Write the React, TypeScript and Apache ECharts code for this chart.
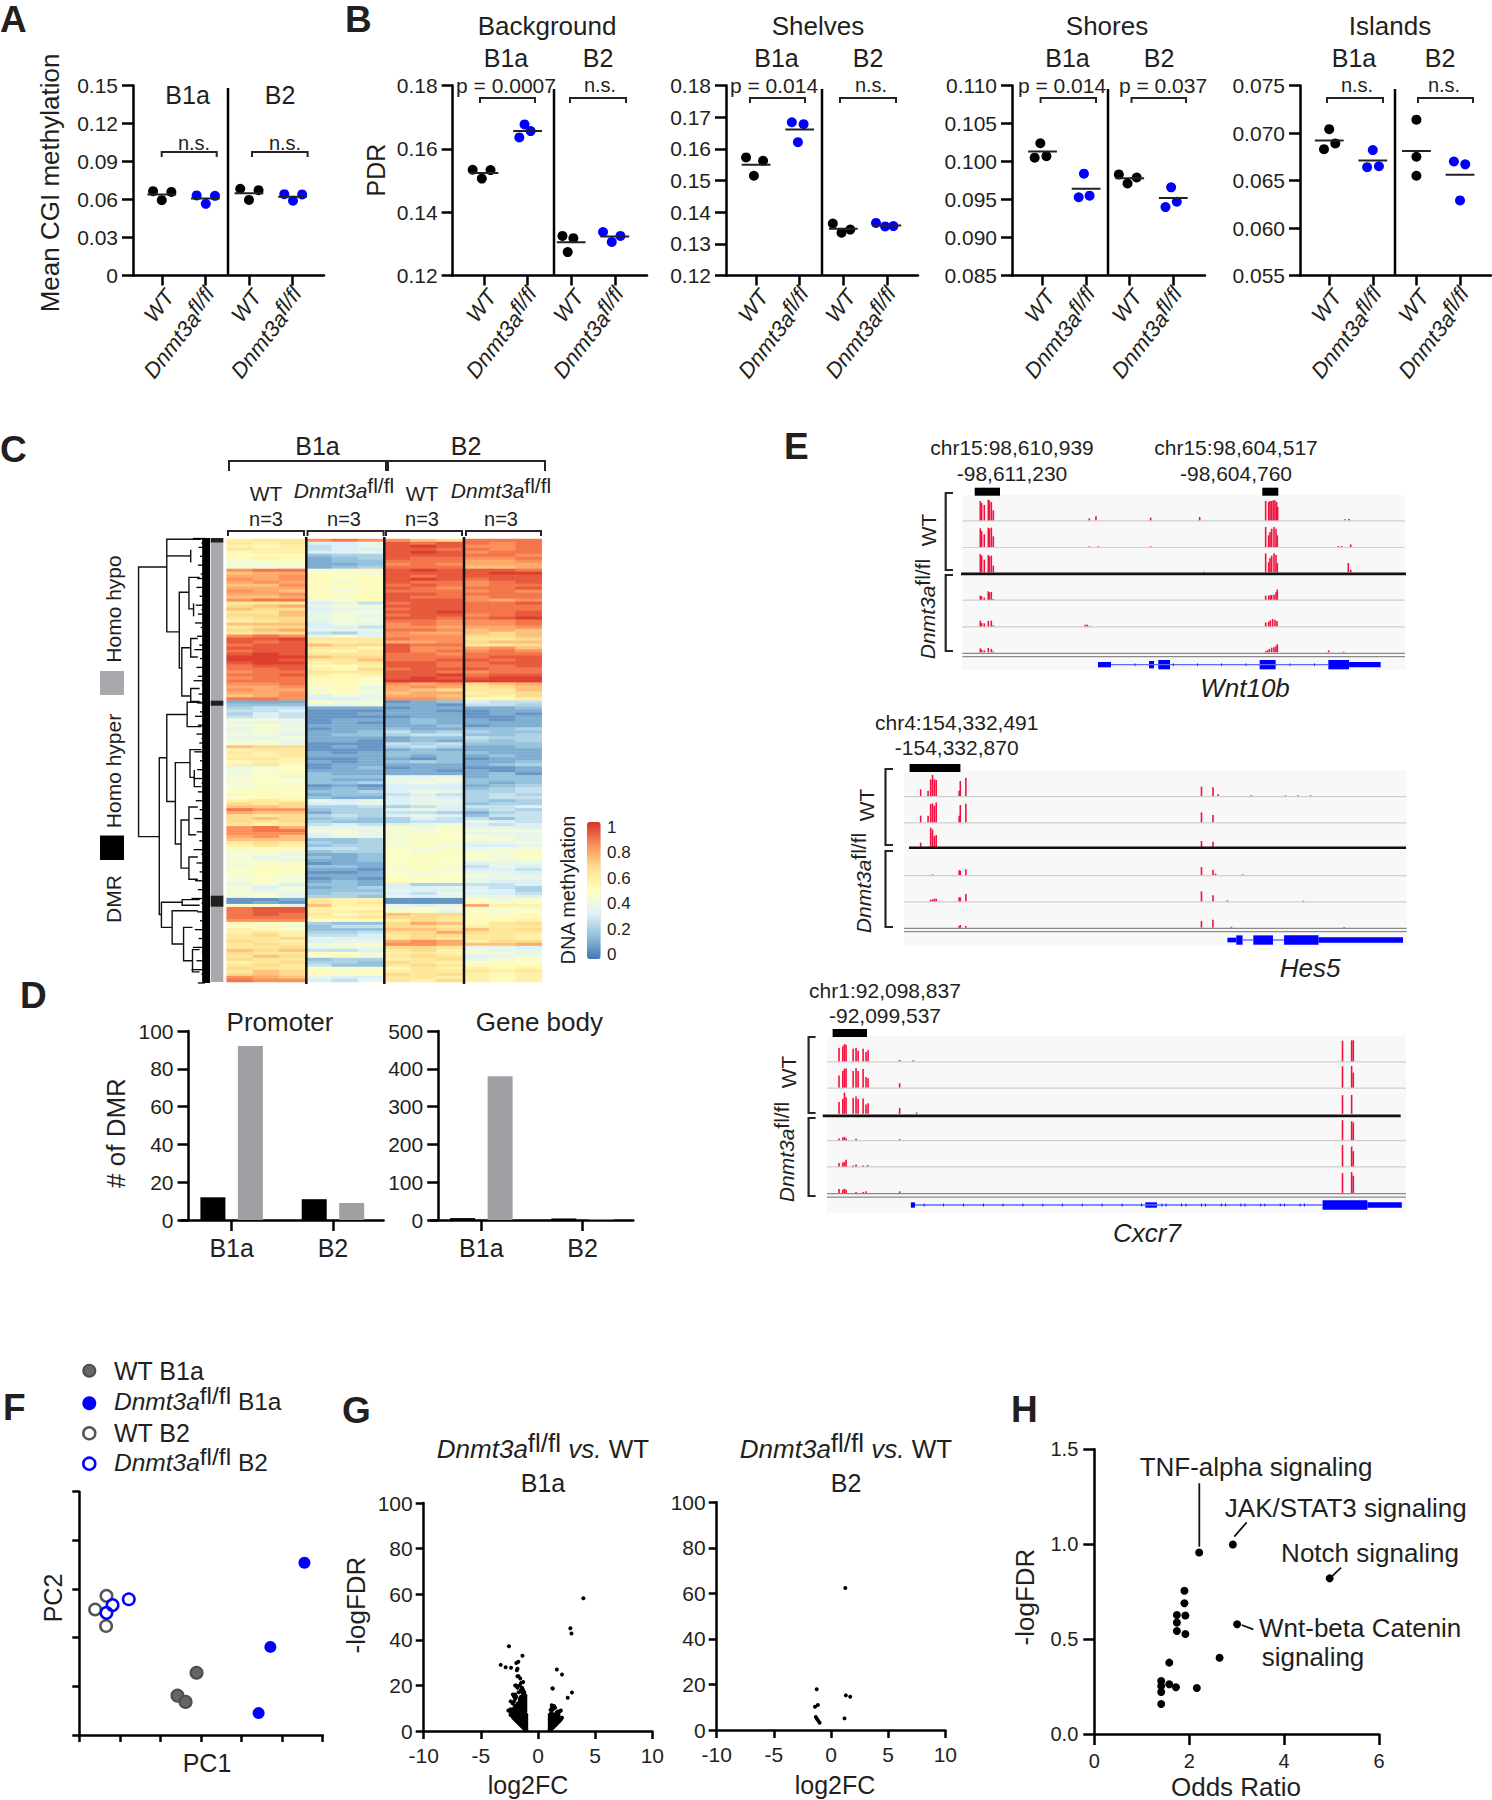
import React, { useEffect, useRef } from "react";
import * as echarts from "echarts";

const FF = "'Liberation Sans', Arial, sans-serif";
const INK = "#231f20";
const BLUE = "#0000ff";
const AXIS = "#000000";

// ---------- panels A / B ----------
const cgiJit = [[-0.2, 0, 0.22], [-0.2, 0.01, 0.22], [-0.2, 0, 0.22], [-0.19, 0.01, 0.22]];
const cgiDots = [[0.0666, 0.0595, 0.066], [0.0632, 0.0566, 0.0629], [0.0684, 0.0597, 0.0674], [0.0642, 0.059, 0.064]];
const cgiMeans = [0.064, 0.0608, 0.065, 0.0621];
const bgJit = [[-0.26, -0.05, 0.15], [-0.07, -0.19, 0.07], [-0.2, -0.08, 0.05], [-0.27, -0.07, 0.13]];
const bgDots = [[0.1534, 0.1506, 0.1533], [0.1677, 0.1636, 0.1656], [0.1325, 0.1274, 0.1318], [0.1337, 0.1306, 0.1325]];
const bgMeans = [0.1524, 0.1656, 0.1305, 0.1323];
const shelfJit = [[-0.23, -0.05, 0.16], [-0.18, 0.09, -0.04], [-0.24, -0.04, 0.16], [-0.25, -0.04, 0.15]];
const shelfDots = [[0.1573, 0.1515, 0.1562], [0.1684, 0.1678, 0.1621], [0.1364, 0.1335, 0.1345], [0.1366, 0.1355, 0.1356]];
const shelfMeans = [0.155, 0.1661, 0.1348, 0.1358];
const shoreJit = [[-0.05, -0.18, 0.09], [-0.05, -0.17, 0.08], [-0.25, -0.05, 0.16], [-0.05, -0.18, 0.08]];
const shoreDots = [[0.1024, 0.1005, 0.1007], [0.0984, 0.0953, 0.0955], [0.0983, 0.0971, 0.0979], [0.0966, 0.094, 0.0947]];
const shoreMeans = [0.1013, 0.0964, 0.0978, 0.0952];
const islandJit = [[0, -0.12, 0.14], [0, -0.13, 0.14], [0, 0, 0], [-0.14, 0.12, 0]];
const islandDots = [[0.0704, 0.0683, 0.0689], [0.0682, 0.0664, 0.0665], [0.0714, 0.0675, 0.0655], [0.067, 0.0667, 0.0629]];
const islandMeans = [0.0692, 0.0671, 0.0681, 0.0656];

// ---------- panel C: 12 samples per row, letters a..t are methylation steps of 0.05 ----------
const heatRows = [
  "lmmqrqqonrrr","mlmgghsrsrqr","lklfghstsqqr","mllfggssrrqr","kllgghstsqrr","jkkdeesssrrq","klkcdesrrqqr",
  "ijjcddrrrppq","iijccdqrqppp","iiicderrroop","qrrijkstsssr","oppjjisssstt","ppqkjjsrssss","qpqkjkstsrss",
  "pqpjiksrrqrs","ooqkkjrsrqrr","pppjiksrqrrs","qpokijrrrqrq","ppqjkkssrrrr","oopkiksrrqrr","qrrikksssqpq",
  "mmmghfrssrrs","nophiisssrrr","onnghhrssrrr","mmohiisstrrs","nnohihrssqrs","mnnhihssrrst",
  "lmnhiirrqqqr","ooogihqrqqqr","mnnggfqqpppq","nophhhrrqopo","mnnfegqppono","qrqhihqqqnno",
  "sstmmmrqqmmn","srsllmppqnoo","rssonnsrrmmn","sssmmksqqpqo","rsslkmsqrqrq","stsmmmrrqrrr","tttonnrrrrss",
  "ttsmmorrssrs","sttlmmssrrss","rsskklssrrrs","rrslknrsssrr","qrrmmmssrqrr","rrslklsstrss","qrrkkjstsstt",
  "rrrkkjtttttt","qqrjkjqpqnop","ppqjkhpqpmno","qppikiponmmo","ppqkjiopplmn","opqgihppomln","rrqgghqqpkkl",
  "cccjiibcdgff","dddhhiccbffe","effcccbccccd","ffgbbbccbbcc","egfbbccccbcb","fgfbbbbccbbc","iihbcccdccbc",
  "hhhbcbcdcccc","ijhcccccdbcc","hiibccdccdde","hihccdfdeedd","iihcddeffdde","hhiccccddfee","ijhccbcdcede",
  "iihbbbfefddd","onnbcbefeccd","lmmbbbcdcccc","mlmcbcddddcc","llmcccdcdcdc","mmlbbccbdbcc","kllcbcdedccd",
  "lmkbccccccde","hijbcdbccbbc","ijjcccccbcbc","ijkdccccccdb","ijhdddhhhcdd","ijjdcchhiddd",
  "jjiddehihdcd","ijjbcbgggcde","jjkcdcgggdef","jkjddegiheef","kkjcddfgfefe","jkkdccghgeff","lmlhghghhede",
  "nmngghghhdee","ooneefefgffg","rqqdeeghgefe","pooceeffecef","nmnefeghgdff","nondedegffdf","nmneddeffhgf",
  "mlmfgfghigfg","qrphhhjijhhg","qrriihiijiii","qqqhihijjhhh","pqoghhjijjih","oooddeijjiih","mnmedejkjhhi",
  "lmldeeijiggh","kkkffejijhii","ijideejijiij","jihccdjkkjij","ihidcdjjjjij","jihccdjkjiii","ijjbccjjjghh",
  "ijjddcjkjfhg","jkjccbijiggf","jjkbbcjjjhhg","ijicccjijihh","jjibcbjkjhhh","ijicdckjjhgg","higddcgeeffg",
  "igicdegghgfe","jhidddhgghge","iihdeegfhggf","ijheedhghhhg","bbcmllbbbjij","bcbmlmbbbjij","jjhollhghpll",
  "rsslkkijiiji","rssllmjjhjij","rsrmklonnkjk","rrrllmnnmkkk","qqqkjklnmjkl","kjjeddnpokmn","jkidffnnmlmm",
  "lkjdddoonomn","lmleefnnpnmm","mnlffgmnnmml","mmnhggmnmmml","nmlghhpqplnn","mnmiijqqpoop","mmnhiinnmhhg",
  "onoffgmnlihh","nmmjjilmliih","monjkimnmghi","nmmdeelmnhij","lmneednmljkj","mnmfddmnmkkk","nmmjjjkmllkl",
  "monkijlmmmlm","nonjkjnmnlkl","qpohggmmllkl","rqqgfhmlnlkl",
];
const heatAlphabet = "abcdefghijklmnopqrst";
const heatColors = ["#4575b4", "#91bfdb", "#e0f3f8", "#ffffbf", "#fee090", "#fc8d59", "#d73027"];
const colorTicks = ["1", "0.8", "0.6", "0.4", "0.2", "0"];
const leafTeeth = [316,340,332,345,336,342,330,344,338,328,343,326,341,335,344,324,340,330,344,322,338,342,328,344,334,320,342,336,345,326,343,330,318,341,345,332,342,328,344,336,322,343,330,345,326,340,334,344,320,341,336,345,328,342,318,340,344,330,343,324,345,335,342,320,341,344,327,343,334,345,318,340,344,326,342,335,345,322,343,330,344,312,340,345,328,344,336,345,322,343,332,344,316,341,345,326,343,312,340,345,330];

// ---------- panel D ----------
const dmrCats = ["B1a", "B2"];
const promoterHyper = [12, 11];
const promoterHypo = [92, 9];
const bodyHyper = [5, 4];
const bodyHypo = [380, 2];

// ---------- panel E: tracks as [position, height] ----------
const wntSpikes = [
  [[241,58],[245,52],[253,46],[265,62],[268,60],[274,55],[280,30],[1097,58],[1106,55],[1110,58],[1115,58],[1120,60],[1125,60],[1130,55],[1133,40],[568,6],[588,12],[752,8],[899,10],[1335,3],[1347,4]],
  [[241,56],[245,48],[253,38],[265,58],[268,55],[274,58],[280,32],[1097,60],[1106,35],[1110,45],[1115,55],[1122,60],[1128,55],[1132,35],[568,2],[595,2],[752,2],[1315,3],[1325,3],[1352,8]],
  [[241,55],[245,50],[253,38],[265,52],[268,48],[274,50],[280,20],[1097,57],[1106,30],[1110,42],[1115,50],[1122,57],[1128,52],[1132,28],[913,2],[1345,28],[1352,8]],
  [[241,12],[245,10],[253,6],[265,25],[268,22],[274,23],[280,2],[1097,12],[1106,12],[1111,13],[1115,14],[1122,15],[1128,22],[1132,30]],
  [[241,17],[245,10],[253,9],[265,16],[274,17],[280,3],[556,5],[562,5],[570,2],[1097,12],[1106,14],[1111,18],[1118,22],[1125,20],[1131,16]],
  [[241,12],[245,8],[253,6],[265,13],[274,10],[280,3],[1097,3],[1102,6],[1108,10],[1115,14],[1122,15],[1128,18],[1132,24],[1286,6],[1331,2]],
];
const hesSpikes = [
  [[218,20],[238,16],[245,50],[250,63],[255,50],[260,48],[322,16],[325,45],[340,55],[976,28],[1007,26],[1021,5],[1110,2],[1203,2],[1236,2],[1270,2]],
  [[218,20],[238,20],[245,55],[250,57],[255,50],[260,60],[322,20],[325,52],[340,56],[976,30],[1007,22]],
  [[218,15],[238,3],[245,60],[250,55],[255,35],[260,38],[976,20],[1007,18]],
  [[250,2],[322,14],[325,13],[340,17],[976,24],[1007,16],[1014,4],[1087,2]],
  [[245,5],[250,6],[255,8],[260,8],[322,12],[325,12],[340,22],[976,30],[1007,18],[1046,3],[1251,2]],
  [[322,5],[325,8],[340,5],[976,20],[1007,24],[1057,3],[1361,2]],
];
const cxcrSpikes = [
  [[167,40],[176,45],[180,52],[184,50],[201,38],[208,40],[213,32],[225,38],[232,28],[237,34],[313,4],[346,3],[1380,62],[1402,63],[1406,63]],
  [[167,36],[176,50],[180,57],[184,57],[201,50],[208,58],[213,50],[225,56],[232,32],[237,28],[313,13],[1380,64],[1402,65],[1406,45]],
  [[167,36],[176,45],[180,64],[184,50],[201,48],[208,52],[213,45],[225,46],[232,28],[237,32],[313,18],[354,4],[1380,56],[1402,57]],
  [[167,5],[176,8],[180,10],[184,6],[208,4],[313,3],[1380,60],[1402,57],[1406,53]],
  [[167,10],[176,12],[180,14],[184,20],[201,3],[208,6],[225,3],[236,4],[1380,64],[1402,60],[1406,46]],
  [[167,12],[176,10],[180,13],[184,10],[208,3],[225,3],[232,5],[313,5],[1380,60],[1402,63],[1406,52]],
];
const wntExons = [[594,633,16],[747,762,22],[775,810,28],[1079,1127,28],[1285,1347,28],[1347,1442,16]];
const wntIntrons = [[633,1285]];
const wntMarks = [705,820,893,965,1038,1170,1243];
const hesExons = [[1046,1070,14],[1070,1087,28],[1116,1169,28],[1199,1292,28],[1292,1520,16]];
const hesIntrons = [[1087,1116],[1169,1199]];
const hesMarks: number[] = [];
const cxcrExons = [[340,350,16],[905,933,16],[1332,1440,28],[1440,1523,16]];
const cxcrIntrons = [[350,1332]];
const cxcrMarks = [372,419,467,515,562,610,658,705,753,801,849,896,945,955,992,1003,1040,1050,1088,1098,1135,1145,1183,1193,1230,1240,1278,1288];

// ---------- panel F ----------
const pcaWtB1a = [[2.89,1.28],[2.42,0.81],[2.62,0.68]];
const pcaKoB1a = [[5.55,3.54],[4.71,1.81],[4.42,0.45]];
const pcaWtB2 = [[0.67,2.86],[0.39,2.58],[0.66,2.24]];
const pcaKoB2 = [[1.22,2.79],[0.82,2.67],[0.67,2.51]];

// ---------- panel G ----------
const volcanoB1a = [
  [3.97,58.2],[2.83,45.1],[2.93,42.8],[1.65,27],[2.1,24.8],[2.97,16.9],[1.25,18.7],[1.3,18.6],[2.6,14.6],
  [-2.54,37.2],[-1.36,33],[-3.26,29],[-2.83,28],[-2.36,27.7],[-1.72,30.4],[-1.9,29.8],[-1.79,27.3],[-1.85,26.6],
  [-1.02,0.3],[-1.02,1],[-1.02,2],[-1.02,3],[-1.02,4],[-1.02,5],[-1.02,6],[-1.02,7],
  [-1.1,0.5],[-1.1,1.5],[-1.1,2.5],[-1.1,3.5],[-1.1,4.5],[-1.1,5.5],[-1.1,6.5],[-1.1,7.5],[-1.1,8.5],[-1.1,9.5],[-1.1,10.5],[-1.1,11.5],[-1.1,12.5],[-1.1,13.5],[-1.1,14.5],[-1.1,15.5],
  [-1.2,1],[-1.2,2],[-1.2,3],[-1.2,4],[-1.2,5],[-1.2,6],[-1.2,7],[-1.2,8],[-1.2,9],[-1.2,10],[-1.2,11],[-1.2,12],[-1.2,13],[-1.2,14],[-1.2,15],[-1.2,16],[-1.2,17],
  [-1.3,1.5],[-1.3,2.5],[-1.3,3.5],[-1.3,4.5],[-1.3,5.5],[-1.3,6.5],[-1.3,7.5],[-1.3,8.5],[-1.3,9.5],[-1.3,10.5],[-1.3,11.5],[-1.3,12.5],[-1.3,13.5],[-1.3,14.5],[-1.3,15.5],[-1.3,16.5],[-1.3,18],
  [-1.4,2],[-1.4,3],[-1.4,4],[-1.4,5],[-1.4,6],[-1.4,7],[-1.4,8],[-1.4,9],[-1.4,10],[-1.4,11],[-1.4,12],[-1.4,13],[-1.4,14],[-1.4,15],[-1.4,17],[-1.4,19],[-1.3,21.5],
  [-1.5,2.5],[-1.5,3.5],[-1.5,4.5],[-1.5,5.5],[-1.5,6.5],[-1.5,7.5],[-1.5,8.5],[-1.5,9.5],[-1.5,10.5],[-1.5,11.5],[-1.5,12.5],[-1.5,13.5],[-1.5,15],[-1.5,18],[-1.5,21],
  [-1.6,3],[-1.6,4],[-1.6,5],[-1.6,6],[-1.6,7],[-1.6,8],[-1.6,9],[-1.6,10],[-1.6,11],[-1.6,12],[-1.6,13],[-1.6,14],[-1.6,20],[-1.55,23],
  [-1.7,3.5],[-1.7,4.5],[-1.7,5.5],[-1.7,6.5],[-1.7,7.5],[-1.7,8.5],[-1.7,9.5],[-1.7,10.5],[-1.7,12],[-1.7,17],[-1.7,24],
  [-1.8,4],[-1.8,5],[-1.8,6],[-1.8,7],[-1.8,8],[-1.8,9],[-1.8,10],[-1.8,12],[-1.8,19],[-1.8,24],
  [-1.9,4.5],[-1.9,5.5],[-1.9,6.5],[-1.9,7.5],[-1.9,9],[-1.9,11],[-1.9,15],[-1.9,20],
  [-2,5],[-2,6],[-2,7],[-2,8],[-2,10],[-2,11],[-2,14],[-2,16],[-2,20],
  [-2.1,5.5],[-2.1,6.5],[-2.1,8],[-2.1,10],[-2.1,13],[-2.1,15],
  [-2.2,6],[-2.2,7],[-2.2,9],[-2.2,12],[-2.2,16],
  [-2.4,7],[-2.4,8],[-2.4,9.5],[-2.4,13],[-2.6,9],
  [1.02,0.3],[1.02,1],[1.02,2],[1.02,3],[1.02,4],[1.02,5],[1.02,6],[1.02,7],
  [1.1,0.5],[1.1,1.5],[1.1,2.5],[1.1,3.5],[1.1,4.5],[1.1,5.5],[1.1,6.5],[1.1,7.5],[1.1,9.2],
  [1.2,1],[1.2,2],[1.2,3],[1.2,4],[1.2,5],[1.2,6],[1.2,7],[1.2,8],[1.2,10],[1.2,11.3],
  [1.3,1.5],[1.3,2.5],[1.3,3.5],[1.3,4.5],[1.3,5.5],[1.3,6.5],[1.3,7],[1.3,9.5],[1.4,11],
  [1.4,2],[1.4,3],[1.4,4],[1.4,5],[1.4,6],[1.4,7],[1.5,10.2],
  [1.5,2.5],[1.5,3.5],[1.5,4.5],[1.5,5.5],[1.5,6.5],[1.5,7],
  [1.6,3],[1.6,4],[1.6,5],[1.6,6],[1.6,7],[1.6,8],
  [1.7,3.5],[1.7,4.5],[1.7,5.5],[1.7,6.5],[1.7,7.5],[1.7,8.5],
  [1.8,4],[1.8,5],[1.8,6],[1.8,7],[1.8,8.5],
  [1.9,4.5],[1.9,5.5],[1.9,8.5],[2,5],[2,5.5],[2,9],[2.1,5.8],
];
const volcanoB2 = [[1.25,62.4],[-1.25,17.9],[1.3,15.2],[1.68,14.6],[1.18,5.1],[-1.15,11],[-1.4,10.2],[-1.33,5.7],[-1.22,4.8],[-1.1,4],[-1.0,3.2]];

// ---------- panel H ----------
const pathways = [
  [2.21,0.956],[2.92,0.998],[4.96,0.82],[3.01,0.578],[2.64,0.402],[1.9,0.755],[1.9,0.689],[1.74,0.627],[1.92,0.624],[1.74,0.587],
  [1.74,0.543],[1.92,0.527],[1.58,0.376],[2.16,0.242],[1.72,0.246],[1.58,0.262],[1.41,0.279],[1.41,0.253],[1.41,0.221],[1.41,0.158],
];

// ---------- builders ----------
const grids: any[] = [];
const xAxes: any[] = [];
const yAxes: any[] = [];
const series: any[] = [];
const gfx: any[] = [];

const supRich = (s: number, raise = 10, fill = INK) => ({
  i: { fontFamily: FF, fontSize: s, fontStyle: "italic", fill, color: fill },
  s: { fontFamily: FF, fontSize: s, padding: [0, 0, raise, 0], fill, color: fill },
  si: { fontFamily: FF, fontSize: s, fontStyle: "italic", padding: [0, 0, raise, 0], fill, color: fill },
  n: { fontFamily: FF, fontSize: s, fill, color: fill },
});

function T(text: string, x: number, y: number, size: number, o: any = {}) {
  const align = o.align || "center";
  gfx.push({
    type: "text", x, y, rotation: o.rot || 0, z: 20, silent: true,
    style: {
      text, fontSize: size, fontFamily: FF, fontStyle: o.italic ? "italic" : "normal", fontWeight: o.bold ? "bold" : "normal",
      fill: o.fill || INK, align, textAlign: align, verticalAlign: "middle", textVerticalAlign: "middle", rich: o.rich,
    },
  });
}
function L(points: number[][], width = 2, color = "#2a2426", z = 15) {
  gfx.push({ type: "polyline", z, silent: true, shape: { points }, style: { stroke: color, lineWidth: width, fill: "none" } });
}
function R(x: number, y: number, w: number, h: number, fill: string, z = 15) {
  gfx.push({ type: "rect", z, silent: true, shape: { x, y, width: w, height: h }, style: { fill } });
}
function addGrid(l: number, t: number, w: number, h: number, x: any, y: any) {
  const i = grids.length;
  grids.push({ left: l, top: t, width: w, height: h, outerBoundsMode: "none", show: false });
  xAxes.push({ gridIndex: i, splitLine: { show: false }, ...x });
  yAxes.push({ gridIndex: i, splitLine: { show: false }, ...y });
  return i;
}
const line = { show: true, onZero: false, lineStyle: { color: AXIS, width: 2.5 } };
const tick = (length: number) => ({ show: true, length, lineStyle: { color: AXIS, width: 2.5 } });
const label = (fontSize: number, margin: number, extra: any = {}) => ({ fontSize, margin, fontFamily: FF, color: INK, ...extra });
const xNames = ["WT", "Dnmt3a", "WT", "Dnmt3a"];

function dotPanel(left: number, width: number, off: number, min: number, max: number, step: number, digits: number, jit: number[][], dots: number[][], means: number[]) {
  const unit = 43.6;
  const labelShift = 0.18;
  const ticks = [0, 1, 2, 3].map((i) => i + off);
  const g = addGrid(left, 85.5, width, 190, {
    type: "value", min: 0, max: width / unit, axisLine: line,
    axisTick: { ...tick(10), customValues: ticks },
    axisLabel: {
      ...label(22, 17, { fontStyle: "italic" }), customValues: ticks.map((t) => t + labelShift), rotate: 52, rich: supRich(22, 10),
      formatter: (v: number) => (xNames[Math.round(v - off - labelShift)] === "WT" ? "WT" : "{i|Dnmt3a}{si|fl/fl}"),
    },
  }, {
    type: "value", min, max, interval: step, axisLine: line, axisTick: tick(11),
    axisLabel: { ...label(21, 15), formatter: (v: number) => (v === 0 ? "0" : v.toFixed(digits)) },
  });
  dots.forEach((ys, i) => {
    series.push({
      type: "scatter", xAxisIndex: g, yAxisIndex: g, symbolSize: 10, silent: true, z: 3,
      itemStyle: { color: i % 2 ? BLUE : "#000", opacity: 1 },
      data: ys.map((y, k) => [i + off + jit[i][k], y]),
    });
    series.push({
      type: "line", xAxisIndex: g, yAxisIndex: g, symbol: "none", silent: true, z: 4,
      lineStyle: { color: "#222", width: 2 },
      data: [[i + off - 0.33, means[i]], [i + off + 0.33, means[i]]],
    });
  });
}
const bracket = (a: number, b: number, y: number, drop = 5) => L([[a, y + drop], [a, y], [b, y], [b, y + drop]]);

// Panel A
dotPanel(133, 191, 0.66, 0, 0.15, 0.03, 2, cgiJit, cgiDots, cgiMeans);
// Panel B
dotPanel(452.6, 194.4, 0.72, 0.12, 0.18, 0.02, 2, bgJit, bgDots, bgMeans);
dotPanel(726, 192, 0.69, 0.12, 0.18, 0.01, 2, shelfJit, shelfDots, shelfMeans);
dotPanel(1012, 193, 0.7, 0.085, 0.11, 0.005, 3, shoreJit, shoreDots, shoreMeans);
dotPanel(1300, 191, 0.67, 0.055, 0.075, 0.005, 3, islandJit, islandDots, islandMeans);

// A, B texts
T("A", 0, 19, 37, { bold: true, align: "left" });
T("B", 345, 19, 37, { bold: true, align: "left" });
T("Mean CGI methylation", 50, 183, 26, { rot: Math.PI / 2 });
T("PDR", 375.6, 170, 25, { rot: Math.PI / 2 });
T("B1a", 187.6, 95, 25); T("B2", 280, 95, 25);
T("n.s.", 194, 143, 20); T("n.s.", 285, 143, 20);
bracket(161.7, 216.7, 152); bracket(252, 307.6, 152);
L([[228, 88], [228, 275.5]], 2.5, "#000");
[["Background", 547], ["Shelves", 818], ["Shores", 1107], ["Islands", 1390]].forEach(([t, x]) => T(t as string, x as number, 26, 26));
[[506, 598], [776.5, 868], [1067.5, 1159], [1354, 1440]].forEach(([a, b]) => { T("B1a", a, 58, 25); T("B2", b, 58, 25); });
T("p = 0.0007", 506, 85, 21); T("n.s.", 600, 85, 20);
T("p = 0.014", 774, 85, 21); T("n.s.", 871, 85, 20);
T("p = 0.014", 1062, 85, 21); T("p = 0.037", 1163, 85, 21);
T("n.s.", 1357, 85, 20); T("n.s.", 1444, 85, 20);
[[480, 535], [570, 626], [750, 805], [840, 896], [1040.6, 1096], [1131.5, 1186], [1327, 1383], [1418, 1473]].forEach(([a, b]) => bracket(a, b, 98));
[554, 822, 1108, 1395].forEach((x) => L([[x, 89], [x, 275.5]], 2.5, "#000"));

// Panel C heatmap
const heatCols = Array.from({ length: 12 }, (_, i) => "s" + i);
const heatCats = heatRows.map((_, i) => "r" + i);
const hg = addGrid(226.7, 539, 315, 443, { type: "category", data: heatCols, show: false }, { type: "category", data: heatCats, inverse: true, show: false });
const heatData: number[][] = [];
heatRows.forEach((row, r) => row.split("").forEach((d, c) => heatData.push([c, r, heatAlphabet.indexOf(d) * 0.05 + 0.025])));
const heatIndex = series.length;
series.push({ type: "heatmap", xAxisIndex: hg, yAxisIndex: hg, data: heatData, progressive: 0, silent: true, itemStyle: { borderWidth: 0 } });

const hx = (x: number) => 80 + x / 2.8;
const hy = (y: number) => 420 + y / 2.7;
const dendroLines = [
  [[243,397],[164,397],[164,1125],[222,1125]],
  [[340,322],[243,322],[243,572],[278,572]], [[243,367],[310,367]], [[310,350],[310,385]],
  [[305,465],[278,465],[278,670],[285,670]], [[335,425],[305,425],[305,510],[318,510]], [[318,495],[318,530]],
  [[310,615],[285,615],[285,745],[310,745]], [[330,590],[310,590],[310,640],[330,640]], [[335,725],[310,725],[310,760],[335,760]],
  [[243,912],[222,912],[222,1335],[228,1335]],
  [[300,795],[243,795],[243,1030],[267,1030]], [[340,762],[300,762],[300,828],[340,828]],
  [[308,925],[267,925],[267,1145],[283,1145]], [[340,890],[308,890],[308,965],[320,965]], [[320,945],[320,990],[340,990]],
  [[305,1080],[283,1080],[283,1210],[305,1210]], [[330,1045],[305,1045],[305,1120],[325,1120]], [[330,1180],[305,1180],[305,1240],[330,1240]],
  [[286,1302],[228,1302],[228,1370],[258,1370]], [[335,1295],[286,1295],[286,1310],[335,1310]],
  [[330,1325],[258,1325],[258,1415],[290,1415]], [[315,1370],[290,1370],[290,1460],[315,1460]], [[335,1430],[315,1430],[315,1490],[335,1490]],
];
dendroLines.forEach((p) => L(p.map(([x, y]) => [hx(x), hy(y)]), 1.4, "#111"));
leafTeeth.forEach((x, i) => L([[hx(x), hy(320 + i * 12)], [hx(350), hy(320 + i * 12)]], 1.3, "#000"));
R(hx(342), 538, hx(364) - hx(342), 445, "#000");
R(210.7, 539, 12.6, 443, "#a7a9ac");
R(210.7, 538, 12.6, 4.5, INK, 16); R(210.7, 700.7, 12.6, 5, INK, 16); R(210.7, 895.7, 12.6, 11, INK, 16);
[306.3, 384.3, 464].forEach((x) => L([[x, 537], [x, 984]], 2.5, "#111"));
T("B1a", 317.5, 446, 25); T("B2", 466, 446, 25);
L([[229, 471], [229, 461], [386, 461], [386, 471]]); L([[388, 471], [388, 461], [545, 461], [545, 471]]);
[[266, "WT"], [344, "D"], [422, "WT"], [501, "D"]].forEach(([x, k]) => {
  if (k === "WT") T("WT", x as number, 493, 21);
  else T("{i|Dnmt3a}{s|fl/fl}", x as number, 490, 21, { rich: supRich(21, 10) });
  T("n=3", x as number, 519, 20);
});
[[228, 304], [307.5, 383.6], [386, 462], [466, 541]].forEach(([a, b]) => bracket(a, b, 531, 5));
T("DMR", 113, 899, 21, { rot: Math.PI / 2 });
T("Homo hyper", 113, 771, 21, { rot: Math.PI / 2 });
T("Homo hypo", 113, 609, 21, { rot: Math.PI / 2 });
R(100, 835.5, 24, 24.5, "#000"); R(100, 671, 24, 24, "#a7a9ac");
T("DNA methylation", 567.5, 890, 20, { rot: Math.PI / 2 });
colorTicks.forEach((t, i) => T(t, 607, [827, 852, 878, 903, 929, 954][i], 17, { align: "left" }));
T("C", 0, 449, 37, { bold: true, align: "left" });

// Panel D
function barPanel(left: number, max: number, step: number, hyper: number[], hypo: number[]) {
  const g = addGrid(left, 1031, 202.6, 189, {
    type: "category", data: dmrCats, axisLine: line, axisTick: { ...tick(11), alignWithLabel: true },
    axisLabel: label(25, 15),
  }, {
    type: "value", min: 0, max, interval: step, offset: -7.5, axisLine: line, axisTick: tick(11), axisLabel: label(21, 15),
  });
  series.push({ type: "bar", xAxisIndex: g, yAxisIndex: g, data: hyper, barWidth: 25, barGap: "50%", silent: true, itemStyle: { color: "#000" } });
  series.push({ type: "bar", xAxisIndex: g, yAxisIndex: g, data: hypo, barWidth: 25, barGap: "50%", silent: true, itemStyle: { color: "#a09fa3" } });
}
barPanel(181, 100, 20, promoterHyper, promoterHypo);
barPanel(430.7, 500, 100, bodyHyper, bodyHypo);
T("D", 20, 995, 37, { bold: true, align: "left" });
T("Promoter", 280, 1022, 26); T("Gene body", 539.4, 1022, 26);
T("# of DMR", 116, 1133, 26, { rot: Math.PI / 2 });

// Panel E
function igv(left: number, top: number, right: number, bottom: number, x0: number, x1: number, y0: number, y1: number, spikes: number[][][], bases: number[], exons: number[][], introns: number[][], marks: number[], geneY: number, thick: number[], doubles: number[]) {
  const sy = (bottom - top) / (y1 - y0);
  const px = (v: number) => left + ((v - x0) / (x1 - x0)) * (right - left);
  const py = (v: number) => top + (v - y0) * sy;
  const i = grids.length;
  grids.push({ left, top, width: right - left, height: bottom - top, outerBoundsMode: "none", show: true, backgroundColor: "#f8f8f8", borderWidth: 0 });
  xAxes.push({ gridIndex: i, type: "value", min: x0, max: x1, show: false, splitLine: { show: false } });
  yAxes.push({ gridIndex: i, type: "value", min: y0, max: y1, inverse: true, show: false, splitLine: { show: false } });
  const spikeData: number[][] = [];
  spikes.forEach((t, k) => t.forEach(([x, h]) => spikeData.push([x, bases[k], h])));
  bases.forEach((b, k) => { if (k !== 2 && k !== 5) L([[px(x0), py(b) + 0.5], [px(x1), py(b) + 0.5]], 1.2, "#cfcfcf", 1); });
  series.push({
    type: "custom", xAxisIndex: i, yAxisIndex: i, coordinateSystem: "cartesian2d", silent: true, z: 3, clip: false,
    encode: { x: 0, y: 1 }, data: spikeData,
    renderItem: (_: any, api: any) => {
      const a = api.coord([api.value(0), api.value(1)]);
      const b = api.coord([api.value(0), api.value(1) - api.value(2)]);
      return { type: "rect", shape: { x: a[0] - 0.8, y: b[1], width: 1.6, height: a[1] - b[1] }, style: { fill: "#f2123f" } };
    },
  });
  const geneData: number[][] = [];
  exons.forEach(([a, b, h]) => geneData.push([a, geneY, b, h]));
  introns.forEach(([a, b]) => geneData.push([a, geneY, b, 4]));
  marks.forEach((m) => geneData.push([m - 1, geneY, m + 1, 9]));
  series.push({
    type: "custom", xAxisIndex: i, yAxisIndex: i, coordinateSystem: "cartesian2d", silent: true, z: 3, clip: false,
    encode: { x: 0, y: 1 }, data: geneData,
    renderItem: (_: any, api: any) => {
      const h = api.value(3) * sy;
      const a = api.coord([api.value(0), api.value(1)]);
      const b = api.coord([api.value(2), api.value(1)]);
      return { type: "rect", shape: { x: a[0], y: a[1] - h / 2, width: b[0] - a[0], height: h }, style: { fill: api.value(3) === 4 ? "#5a6bff" : BLUE } };
    },
  });
  L([[thick[0], py(bases[2]) + thick[2]], [thick[1], py(bases[2]) + thick[2]]], 2.6, "#111", 6);
  doubles.forEach((d) => L([[px(x0), py(d)], [px(x1), py(d)]], 1.3, "#8a8a8a", 6));
}
const sideLabels = (wx: number, wy: number, dx: number, dy: number) => {
  T("WT", wx, wy, 21, { rot: Math.PI / 2 });
  T("{i|Dnmt3a}{s|fl/fl}", dx, dy, 21, { rot: Math.PI / 2, rich: supRich(21, 10) });
};
const vBracket = (a: number, b: number, y0: number, y1: number) => L([[b, y0], [a, y0], [a, y1], [b, y1]], 2.2);

igv(962.3, 495, 1405, 670, 187, 1515, 195, 720, wntSpikes, [271, 351, 427, 509, 589, 667], wntExons, wntIntrons, wntMarks, 704, [961, 1406, 1.5], [670, 680]);
R(974.7, 487.7, 25.3, 8, "#000"); R(1262.3, 487.7, 16, 8, "#000");
T("E", 784, 446, 37, { bold: true, align: "left" });
T("chr15:98,610,939", 1012, 447.7, 21); T("-98,611,230", 1012, 473, 21);
T("chr15:98,604,517", 1236, 447.7, 21); T("-98,604,760", 1236, 473, 21);
T("Wnt10b", 1245, 688, 26, { italic: true });
sideLabels(928, 530, 927, 609);
vBracket(945.7, 953, 493, 570); vBracket(945.7, 953, 575, 651);

igv(904, 770.7, 1406.7, 945.7, 173, 1530, 182, 707, hesSpikes, [258, 337, 413, 495, 574, 653], hesExons, hesIntrons, hesMarks, 690, [909, 1406, 0], [655, 665]);
R(909.6, 764, 50.8, 8, "#000");
T("chr4:154,332,491", 956.7, 722.7, 21); T("-154,332,870", 956.7, 747, 21);
T("Hes5", 1310, 968, 26, { italic: true });
sideLabels(866, 805, 863, 883);
vBracket(885.5, 893, 769, 845); vBracket(885.5, 893, 851, 927);

igv(827, 1036, 1406, 1213, 138, 1533, 168, 700, cxcrSpikes, [244, 323, 402, 481, 560, 640], cxcrExons, cxcrIntrons, cxcrMarks, 676, [822.7, 1400.7, 2], [642, 652]);
R(832.6, 1029, 34.4, 8, "#000");
T("chr1:92,098,837", 885, 990, 21); T("-92,099,537", 885, 1015, 21);
T("Cxcr7", 1147, 1233, 26, { italic: true });
sideLabels(788.7, 1072, 786, 1152);
vBracket(808.6, 815.6, 1037, 1113); vBracket(808.6, 815.6, 1118, 1196);

// Panel F
const fg = addGrid(79.3, 1491.7, 243.4, 243.3, {
  type: "value", min: 0, max: 6, interval: 1, axisLine: line, axisTick: tick(7), axisLabel: { show: false },
}, {
  type: "value", min: 0, max: 5, interval: 1, axisLine: line, axisTick: tick(7), axisLabel: { show: false },
});
const pcaStyles: [number[][], any, number][] = [
  [pcaWtB1a, { color: "#666666", borderColor: "#4d4d4d", borderWidth: 2, opacity: 1 }, 12],
  [pcaKoB1a, { color: BLUE, opacity: 1 }, 12],
  [pcaWtB2, { color: "rgba(255,255,255,0)", borderColor: "#555555", borderWidth: 2.5, opacity: 1 }, 11.5],
  [pcaKoB2, { color: "rgba(255,255,255,0)", borderColor: BLUE, borderWidth: 2.5, opacity: 1 }, 11.5],
];
pcaStyles.forEach(([d, it, s]) => series.push({ type: "scatter", xAxisIndex: fg, yAxisIndex: fg, data: d, symbolSize: s, silent: true, itemStyle: it }));
T("F", 3, 1407, 37, { bold: true, align: "left" });
T("PC2", 53, 1598, 25, { rot: Math.PI / 2 });
T("PC1", 207, 1763, 25);
const legendY = [1370.7, 1403.3, 1433.3, 1463.7];
gfx.push({ type: "circle", z: 15, silent: true, shape: { cx: 89.3, cy: legendY[0], r: 6 }, style: { fill: "#666666", stroke: "#4d4d4d", lineWidth: 2 } });
gfx.push({ type: "circle", z: 15, silent: true, shape: { cx: 89.3, cy: legendY[1], r: 7 }, style: { fill: BLUE } });
gfx.push({ type: "circle", z: 15, silent: true, shape: { cx: 89.3, cy: legendY[2], r: 6 }, style: { fill: "none", stroke: "#555555", lineWidth: 2.5 } });
gfx.push({ type: "circle", z: 15, silent: true, shape: { cx: 89.3, cy: legendY[3], r: 6 }, style: { fill: "none", stroke: BLUE, lineWidth: 2.5 } });
T("WT B1a", 114, legendY[0], 25, { align: "left" });
T("{i|Dnmt3a}{s|fl/fl}{n| B1a}", 114, legendY[1] - 1.5, 24.5, { align: "left", rich: supRich(24.5, 12) });
T("WT B2", 114, legendY[2], 25, { align: "left" });
T("{i|Dnmt3a}{s|fl/fl}{n| B2}", 114, legendY[3] - 1, 24.5, { align: "left", rich: supRich(24.5, 12) });

// Panel G
function volcano(left: number, top: number, width: number, height: number, data: number[][]) {
  const g = addGrid(left, top, width, height, {
    type: "value", min: -10, max: 10, interval: 5, axisLine: line, axisTick: tick(8), axisLabel: label(21, 14),
  }, {
    type: "value", min: 0, max: 100, interval: 20, axisLine: line, axisTick: tick(8), axisLabel: label(21, 11),
  });
  series.push({ type: "scatter", xAxisIndex: g, yAxisIndex: g, data, symbolSize: 4, silent: true, itemStyle: { color: "#000", opacity: 1 } });
}
volcano(423.7, 1503, 228.6, 228, volcanoB1a);
volcano(716.7, 1502.3, 228.6, 227.7, volcanoB2);
T("G", 342, 1410, 37, { bold: true, align: "left" });
const vsTitle = "{i|Dnmt3a}{s|fl/fl}{i| vs.}{n| WT}";
T(vsTitle, 543, 1449, 26, { rich: supRich(26, 12) }); T("B1a", 543, 1483, 25);
T(vsTitle, 846, 1449, 26, { rich: supRich(26, 12) }); T("B2", 846, 1483, 25);
T("-logFDR", 356, 1605, 26, { rot: Math.PI / 2 });
T("log2FC", 528, 1785, 25); T("log2FC", 835, 1785, 25);

// Panel H
const hgrid = addGrid(1094.3, 1449.3, 284.7, 284.7, {
  type: "value", min: 0, max: 6, interval: 2, axisLine: line, axisTick: tick(11), axisLabel: label(20, 17),
}, {
  type: "value", min: 0, max: 1.5, interval: 0.5, axisLine: line, axisTick: tick(11),
  axisLabel: { ...label(20, 16), formatter: (v: number) => v.toFixed(1) },
});
series.push({ type: "scatter", xAxisIndex: hgrid, yAxisIndex: hgrid, data: pathways, symbolSize: 8, silent: true, itemStyle: { color: "#000", opacity: 1 } });
T("H", 1011, 1409, 37, { bold: true, align: "left" });
T("-logFDR", 1025, 1597, 26, { rot: Math.PI / 2 });
T("Odds Ratio", 1236, 1787, 26);
T("TNF-alpha signaling", 1256, 1466.7, 26);
T("JAK/STAT3 signaling", 1345.7, 1508, 26);
T("Notch signaling", 1370, 1552.7, 26);
T("Wnt-beta Catenin", 1259, 1628, 26, { align: "left" });
T("signaling", 1261.7, 1657, 26, { align: "left" });
L([[1199.3, 1483.3], [1199.3, 1546.7]], 1.8, "#111");
L([[1246.7, 1522.3], [1234.3, 1536.7]], 1.8, "#111");
L([[1341, 1567.7], [1331.7, 1576.7]], 1.8, "#111");
L([[1253.3, 1629.3], [1241.7, 1625]], 1.8, "#111");

const option: any = {
  animation: false,
  backgroundColor: "#ffffff",
  textStyle: { fontFamily: FF },
  grid: grids,
  xAxis: xAxes,
  yAxis: yAxes,
  visualMap: [{
    type: "continuous", min: 0, max: 1, seriesIndex: heatIndex, dimension: 2, calculable: false, hoverLink: false, realtime: false,
    left: 587, top: 822, itemWidth: 13.7, itemHeight: 137, padding: 0, text: ["", ""], showLabel: false,
    inRange: { color: heatColors },
  }],
  series,
  graphic: { elements: gfx },
};

export default function App() {
  const ref = useRef<HTMLDivElement>(null);
  useEffect(() => {
    const chart = echarts.init(ref.current!, undefined, { renderer: "svg", width: 1492, height: 1800 });
    chart.setOption(option);
    return () => chart.dispose();
  }, []);
  return <div ref={ref} style={{ position: "absolute", left: 0, top: 0, width: 1492, height: 1800 }} />;
}
